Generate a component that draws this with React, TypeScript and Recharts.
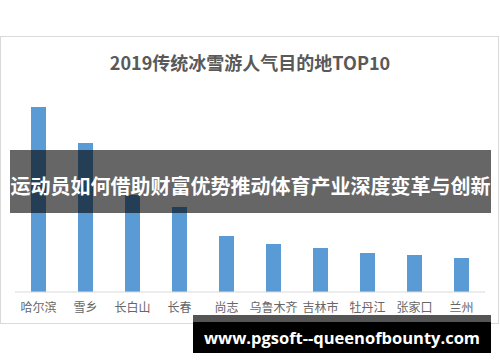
import React from "react";
import { BarChart, Bar, XAxis, YAxis } from "recharts";

const categories = ["哈尔滨", "雪乡", "长白山", "长春", "尚志", "乌鲁木齐", "吉林市", "牡丹江", "张家口", "兰州"];
const values = [185, 149, 97, 85, 56, 48, 44, 39, 37, 34];
const title = "2019传统冰雪游人气目的地TOP10";
const bannerText = "运动员如何借助财富优势推动体育产业深度变革与创新";
const watermark = "www.pgsoft--queenofbounty.com";

const data = categories.map((c, i) => ({ name: c, value: values[i] }));

const cjk = '"Noto Sans CJK SC", "Noto Sans", sans-serif';

export default function App() {
  return (
    <div style={{ position: "fixed", left: 0, top: 0, width: 500, height: 362, background: "#fff", overflow: "hidden" }}>
      <div
        style={{
          position: "absolute",
          left: 0,
          top: 36,
          width: 499,
          height: 288,
          boxSizing: "border-box",
          border: "1px solid #d9d9d9",
        }}
      />
      <div
        style={{
          position: "absolute",
          left: 0,
          top: 48,
          width: 500,
          textAlign: "center",
          fontFamily: cjk,
          fontWeight: 700,
          fontSize: 18,
          lineHeight: "28px",
          color: "#595959",
        }}
      >
        {title}
      </div>
      <div style={{ position: "absolute", left: 0, top: 0 }}>
        <BarChart width={500} height={362} data={data} margin={{ top: 92, right: 15, bottom: 40, left: 15 }}>
          <YAxis hide domain={[0, 200]} />
          <XAxis
            dataKey="name"
            height={30}
            axisLine={{ stroke: "#d9d9d9" }}
            tickLine={false}
            tickMargin={5}
            interval={0}
            tick={{ fontSize: 12, fill: "#666", fontFamily: cjk }}
          />
          <Bar dataKey="value" fill="#5b9bd5" barSize={15} isAnimationActive={false} />
        </BarChart>
      </div>
      <div
        style={{
          position: "absolute",
          left: 10,
          top: 150,
          width: 481,
          height: 63,
          background: "rgba(0,0,0,0.6)",
          color: "#fff",
          fontFamily: cjk,
          fontWeight: 700,
          fontSize: 20,
          lineHeight: "63px",
          textAlign: "center",
          whiteSpace: "nowrap",
          paddingTop: 4,
          boxSizing: "border-box",
        }}
      >
        {bannerText}
      </div>
      <div style={{ position: "absolute", left: 193, top: 315, width: 298, height: 7, background: "#555" }} />
      <div
        style={{
          position: "absolute",
          left: 193,
          top: 322,
          width: 298,
          height: 31,
          background: "#000",
          color: "#fff",
          fontFamily: '"Open Sans", "DejaVu Sans", sans-serif',
          fontWeight: 700,
          fontSize: 16.5,
          lineHeight: "31px",
          textAlign: "center",
          whiteSpace: "nowrap",
        }}
      >
        {watermark}
      </div>
    </div>
  );
}
